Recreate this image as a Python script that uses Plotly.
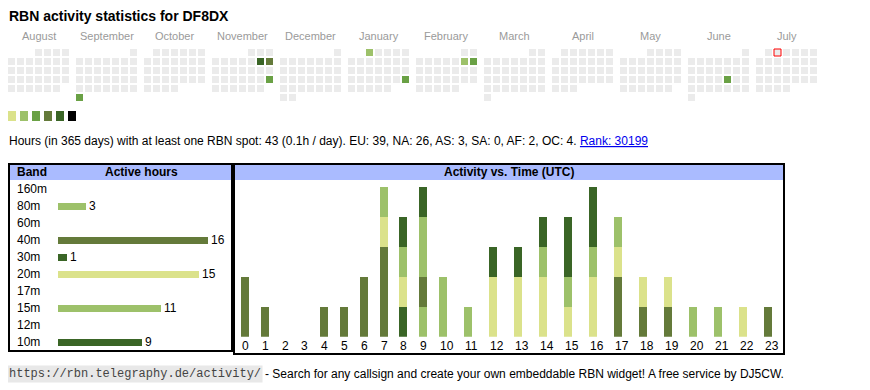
import datetime as dt
import plotly.graph_objects as go

# ---------------- data ----------------
TITLE = "RBN activity statistics for DF8DX"
MONTHS = ["August", "September", "October", "November", "December", "January",
          "February", "March", "April", "May", "June", "July"]
FIRST_MONTH = (2024, 8)
LEVEL_COLORS = ["#ebebeb", "#dbe28b", "#9dc16a", "#6aa145", "#647a3a", "#3a6526", "#000000"]
ACTIVE_DAYS = ["2024-09-30", "2024-11-09", "2024-11-10", "2024-11-24", "2025-01-01",
               "2025-01-26", "2025-02-08", "2025-02-09", "2025-06-20"]
ACTIVE_LEVELS = [3, 5, 4, 3, 2, 3, 2, 3, 3]
TODAY = "2025-07-02"

STATS_TEXT = ("Hours (in 365 days) with at least one RBN spot: 43 (0.1h / day). "
              "EU: 39, NA: 26, AS: 3, SA: 0, AF: 2, OC: 4. ")
RANK_TEXT = "Rank: 30199"

BANDS = ["160m", "80m", "60m", "40m", "30m", "20m", "17m", "15m", "12m", "10m"]
BAND_HOURS = [0, 3, 0, 16, 1, 15, 0, 11, 0, 9]
BAND_COLORS = ["#dbe28b", "#9dc16a", "#6aa145", "#647a3a", "#3a6526",
               "#dbe28b", "#6aa145", "#9dc16a", "#647a3a", "#3a6526"]

HOURS = [str(h) for h in range(24)]
ACT_80M = [0, 0, 0, 0, 0, 0, 0, 0, 0, 1, 0, 0, 0, 0, 0, 0, 0, 0, 0, 0, 1, 1, 0, 0]
ACT_40M = [2, 1, 0, 0, 1, 1, 2, 3, 0, 1, 0, 0, 0, 0, 0, 0, 0, 2, 1, 1, 0, 0, 0, 1]
ACT_30M = [0, 0, 0, 0, 0, 0, 0, 0, 1, 0, 0, 0, 0, 0, 0, 0, 0, 0, 0, 0, 0, 0, 0, 0]
ACT_20M = [0, 0, 0, 0, 0, 0, 0, 1, 1, 0, 0, 0, 2, 2, 2, 1, 2, 1, 1, 1, 0, 0, 1, 0]
ACT_15M = [0, 0, 0, 0, 0, 0, 0, 1, 1, 2, 2, 1, 0, 0, 1, 1, 1, 1, 0, 0, 0, 0, 0, 0]
ACT_10M = [0, 0, 0, 0, 0, 0, 0, 0, 1, 1, 0, 0, 1, 1, 1, 2, 2, 0, 0, 0, 0, 0, 0, 0]
ACTIVITY = [("80m", ACT_80M), ("40m", ACT_40M), ("30m", ACT_30M),
            ("20m", ACT_20M), ("15m", ACT_15M), ("10m", ACT_10M)]

FOOT_URL = "https://rbn.telegraphy.de/activity/"
FOOT_TEXT = "- Search for any callsign and create your own embeddable RBN widget! A free service by DJ5CW."

# ---------------- layout constants (pixels, page coordinates) ----------------
PAGE_W, PAGE_H = 870, 390
BODY = 8                      # default page margin around the plot div
W, H = PAGE_W - BODY, PAGE_H - BODY
FONT = "Liberation Sans, Arial, sans-serif"
MONO = "Liberation Mono, DejaVu Sans Mono, monospace"
CELL, PITCH, MONTH_PITCH = 7, 9, 68
CAL_LEFT, CAL_TOP = 8, 49


def fx(p):
    return (p - BODY) / W


def fy(p):
    return 1 - (p - BODY) / H


fig = go.Figure()

# ---------------- calendar ----------------
active = {d: lv for d, lv in zip(ACTIVE_DAYS, ACTIVE_LEVELS)}
cx, cy, cc, lines = [], [], [], []
mp = MONTH_PITCH / PITCH
y0, m0 = FIRST_MONTH
for mi in range(len(MONTHS)):
    yy = y0 + (m0 - 1 + mi) // 12
    mm = (m0 - 1 + mi) % 12 + 1
    first = dt.date(yy, mm, 1)
    off = first.weekday()
    d = first
    while d.month == mm:
        idx = off + d.day - 1
        cx.append(mi * mp + idx % 7)
        cy.append(idx // 7)
        key = d.isoformat()
        cc.append(LEVEL_COLORS[active.get(key, 0)])
        lines.append("#ff0000" if key == TODAY else "rgba(0,0,0,0)")
        d += dt.timedelta(days=1)

fig.add_trace(go.Scatter(
    x=cx, y=cy, mode="markers", xaxis="x", yaxis="y", hoverinfo="skip",
    marker=dict(symbol="square", size=CELL, color=cc,
                line=dict(color=lines, width=1)),
    showlegend=False))

c0x = CAL_LEFT + CELL / 2 - BODY
c0y = CAL_TOP + CELL / 2 - BODY

annotations = []
annotations.append(dict(text="<b>%s</b>" % TITLE, x=fx(7), y=fy(16), xref="paper", yref="paper",
                        xanchor="left", yanchor="middle", showarrow=False,
                        font=dict(family=FONT, size=14, color="#000")))
for mi, name in enumerate(MONTHS):
    annotations.append(dict(text=name, x=mi * mp + 3, y=(35.5 - BODY - c0y) / PITCH, xref="x", yref="y",
                            xanchor="center", yanchor="middle", showarrow=False,
                            font=dict(family=FONT, size=11, color="#9a9a9a")))

shapes = []
# legend squares
for i, col in enumerate(LEVEL_COLORS[1:]):
    shapes.append(dict(type="rect", xref="paper", yref="paper",
                       x0=fx(8 + 12 * i), x1=fx(16 + 12 * i), y0=fy(121), y1=fy(111),
                       fillcolor=col, line=dict(width=0)))

annotations.append(dict(
    text=STATS_TEXT + "<span style='color:#0000ee'><u>%s</u></span>" % RANK_TEXT,
    x=fx(7), y=fy(141.5), xref="paper", yref="paper", xanchor="left", yanchor="middle",
    showarrow=False, font=dict(family=FONT, size=12, color="#000")))

# ---------------- boxes ----------------
shapes += [
    dict(type="rect", xref="paper", yref="paper", x0=fx(10), x1=fx(231), y0=fy(180), y1=fy(165),
         fillcolor="#aabbff", line=dict(width=0), layer="below"),
    dict(type="rect", xref="paper", yref="paper", x0=fx(235), x1=fx(783), y0=fy(180), y1=fy(165),
         fillcolor="#aabbff", line=dict(width=0), layer="below"),
    dict(type="rect", xref="paper", yref="paper", x0=fx(9), x1=fx(232), y0=fy(351), y1=fy(164),
         line=dict(color="#000", width=2)),
    dict(type="rect", xref="paper", yref="paper", x0=fx(234), x1=fx(784), y0=fy(354), y1=fy(164),
         line=dict(color="#000", width=2)),
]
annotations.append(dict(text="<b>Band</b>", x=fx(15), y=fy(172.5), xref="paper", yref="paper",
                        xanchor="left", yanchor="middle", showarrow=False,
                        font=dict(family=FONT, size=12, color="#000")))
annotations.append(dict(text="<b>Active hours</b>", x=fx(141.5), y=fy(172.5), xref="paper", yref="paper",
                        xanchor="center", yanchor="middle", showarrow=False,
                        font=dict(family=FONT, size=12, color="#000")))
annotations.append(dict(text="<b>Activity vs. Time (UTC)</b>", x=fx(509), y=fy(172.5), xref="paper",
                        yref="paper", xanchor="center", yanchor="middle", showarrow=False,
                        font=dict(family=FONT, size=12, color="#000")))

# ---------------- band table ----------------
ROW = 17
fig.add_trace(go.Bar(
    x=BAND_HOURS, y=BANDS, orientation="h", xaxis="x2", yaxis="y2",
    marker=dict(color=BAND_COLORS, line=dict(width=0)), width=7 / ROW,
    text=[str(v) if v else "" for v in BAND_HOURS], textposition="outside",
    constraintext="none", cliponaxis=False,
    textfont=dict(family=FONT, size=12, color="#000"), hoverinfo="skip", showlegend=False))
for b in BANDS:
    annotations.append(dict(text=b, x=fx(15), y=b, xref="paper", yref="y2",
                            xanchor="left", yanchor="middle", showarrow=False,
                            font=dict(family=FONT, size=12, color="#000")))

# ---------------- activity vs time ----------------
INNER_W = 548
CHAR_W = 5.22
pad = (INNER_W - CHAR_W * sum(len(h) for h in HOURS)) / len(HOURS)
lefts, acc = [], 0.0
for h in HOURS:
    lefts.append(acc + 6)
    acc += pad + CHAR_W * len(h)

for band, vals in ACTIVITY:
    fig.add_trace(go.Bar(
        x=lefts, y=vals, xaxis="x3", yaxis="y3", offset=0, width=8,
        marker=dict(color=BAND_COLORS[BANDS.index(band)], line=dict(width=0)),
        hoverinfo="skip", showlegend=False, name=band))
for h, lx in zip(HOURS, lefts):
    annotations.append(dict(text=h, x=lx, y=fy(346), xref="x3", yref="paper",
                            xanchor="left", yanchor="middle", showarrow=False, borderpad=0,
                            font=dict(family=FONT, size=12, color="#000")))

max_total = max(sum(v[i] for _, v in ACTIVITY) for i in range(len(HOURS)))

# ---------------- footer ----------------
annotations.append(dict(text=FOOT_URL, x=fx(7), y=fy(374), xref="paper", yref="paper",
                        xanchor="left", yanchor="middle", showarrow=False, bgcolor="#e8e8e8",
                        borderpad=1, font=dict(family=MONO, size=12, color="#444")))
annotations.append(dict(text=FOOT_TEXT, x=fx(263), y=fy(374), xref="paper", yref="paper",
                        xanchor="left", yanchor="middle", showarrow=False,
                        font=dict(family=FONT, size=12, color="#000")))

hidden = dict(visible=False, showgrid=False, zeroline=False, fixedrange=True)
fig.update_layout(
    width=W, height=H, autosize=False,
    margin=dict(l=0, r=0, t=0, b=0),
    paper_bgcolor="#ffffff", plot_bgcolor="rgba(0,0,0,0)",
    barmode="stack", bargap=0,
    font=dict(family=FONT, size=12, color="#000"),
    xaxis=dict(domain=[0, 1], range=[(0 - c0x) / PITCH, (W - c0x) / PITCH], **hidden),
    yaxis=dict(domain=[0, 1], range=[(H - c0y) / PITCH, (0 - c0y) / PITCH], **hidden),
    xaxis2=dict(domain=[fx(58), fx(208)], range=[0, max(BAND_HOURS)], anchor="y2", **hidden),
    yaxis2=dict(domain=[fy(180.8 + ROW * len(BANDS)), fy(180.8)], type="category",
                categoryorder="array", categoryarray=BANDS,
                range=[len(BANDS) - 0.5, -0.5], anchor="x2", **hidden),
    xaxis3=dict(domain=[fx(235), fx(783)], range=[0, INNER_W], anchor="y3", **hidden),
    yaxis3=dict(domain=[fy(336.7), fy(186.7)], range=[0, max_total], anchor="x3", **hidden),
    shapes=shapes, annotations=annotations,
)

fig.write_html("out.html")
